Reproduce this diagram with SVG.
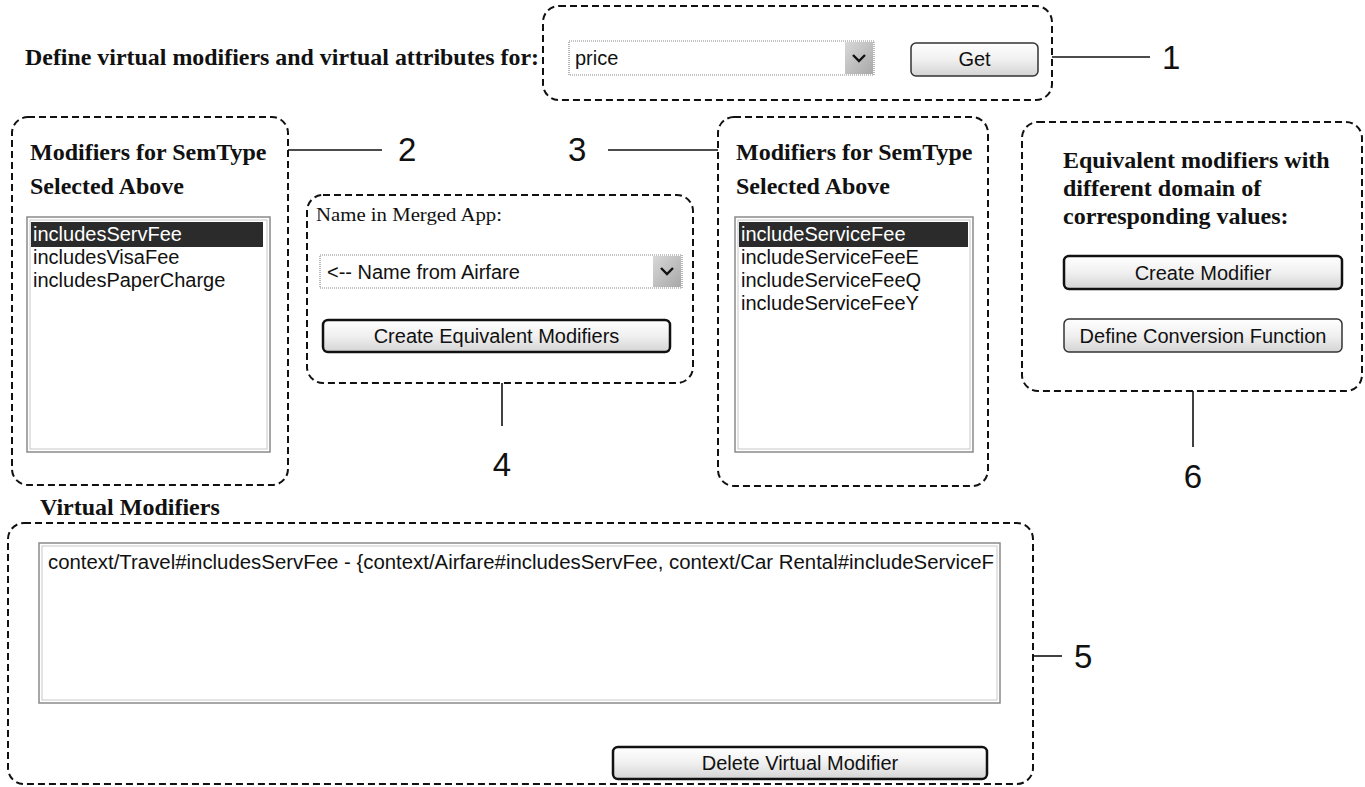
<svg xmlns="http://www.w3.org/2000/svg" width="1365" height="787" viewBox="0 0 1365 787">
<defs>
<linearGradient id="btn" x1="0" y1="0" x2="0" y2="1">
<stop offset="0" stop-color="#ffffff"/>
<stop offset="0.5" stop-color="#f0f0f0"/>
<stop offset="1" stop-color="#d4d4d4"/>
</linearGradient>
<linearGradient id="arr" x1="0" y1="0" x2="1" y2="1">
<stop offset="0" stop-color="#d8d8d8"/>
<stop offset="1" stop-color="#a8a8a8"/>
</linearGradient>
<clipPath id="taClip"><rect x="41" y="545" width="956" height="156"/></clipPath>
</defs>
<style>
.dash{fill:none;stroke:#111;stroke-width:2;stroke-dasharray:7 4}
.hd{font-family:"Liberation Serif",serif;font-weight:bold;font-size:24px;fill:#111}
.ui{font-family:"Liberation Sans",Arial,sans-serif;font-size:20px;fill:#111}
.sel{fill:#ffffff}
.num{font-family:"Liberation Sans",Arial,sans-serif;font-size:33px;fill:#111}
.lead{stroke:#111;stroke-width:1.6;fill:none}
.lb{fill:#fff;stroke:#8a8a8a;stroke-width:1.5}
.lbi{fill:none;stroke:#c8c8c8;stroke-width:1}
.dd{fill:#fff;stroke:#888;stroke-width:1.2;stroke-dasharray:1 1}
.btn{fill:url(#btn);stroke:#333;stroke-width:1.5}
.btnb{fill:url(#btn);stroke:#111;stroke-width:2.5}
.hl{fill:#2b2b2b}
.chev{fill:none;stroke:#111;stroke-width:2.4}
</style>

<g id="title">
<text class="hd" x="25" y="65" textLength="514" lengthAdjust="spacingAndGlyphs">Define virtual modifiers and virtual attributes for:</text>
</g>

<g id="node1">
<rect class="dash" x="543" y="6" width="509" height="94" rx="16"/>
<rect class="dd" x="569" y="41" width="305" height="34"/>
<rect x="845" y="42" width="28" height="32" fill="url(#arr)"/>
<polyline class="chev" points="853,55 859,61 865,55"/>
<text class="ui" x="575" y="65">price</text>
<rect class="btn" x="911" y="43" width="127" height="33" rx="5"/>
<text class="ui" x="974.5" y="66" text-anchor="middle">Get</text>
</g>

<g id="node2">
<rect class="dash" x="12" y="117" width="276" height="368" rx="16"/>
<text class="hd" x="30" y="160">Modifiers for SemType</text>
<text class="hd" x="30" y="194">Selected Above</text>
<rect class="lb" x="27" y="217" width="243" height="235"/>
<rect class="lbi" x="30" y="220" width="237" height="229"/>
<rect class="hl" x="31" y="222" width="232" height="25"/>
<text class="ui sel" x="33" y="241">includesServFee</text>
<text class="ui" x="33" y="264">includesVisaFee</text>
<text class="ui" x="33" y="287">includesPaperCharge</text>
</g>

<g id="node4">
<rect class="dash" x="307" y="195" width="386" height="188" rx="16"/>
<text x="316" y="221" textLength="186" lengthAdjust="spacingAndGlyphs" style="font-family:'Liberation Serif',serif;font-size:19px;fill:#111">Name in Merged App:</text>
<rect class="dd" x="320" y="255" width="362" height="33"/>
<rect x="653" y="256" width="28" height="31" fill="url(#arr)"/>
<polyline class="chev" points="661,268 667,274 673,268"/>
<text class="ui" x="327" y="279">&lt;-- Name from Airfare</text>
<rect class="btnb" x="323" y="320" width="347" height="32" rx="5"/>
<text class="ui" x="496.5" y="343" text-anchor="middle">Create Equivalent Modifiers</text>
</g>

<g id="node3">
<rect class="dash" x="718" y="117" width="270" height="369" rx="16"/>
<text class="hd" x="736" y="160">Modifiers for SemType</text>
<text class="hd" x="736" y="194">Selected Above</text>
<rect class="lb" x="735" y="217" width="238" height="235"/>
<rect class="lbi" x="738" y="220" width="232" height="229"/>
<rect class="hl" x="739" y="222" width="229" height="25"/>
<text class="ui sel" x="741" y="241">includeServiceFee</text>
<text class="ui" x="741" y="264">includeServiceFeeE</text>
<text class="ui" x="741" y="287">includeServiceFeeQ</text>
<text class="ui" x="741" y="310">includeServiceFeeY</text>
</g>

<g id="node6">
<rect class="dash" x="1022" y="122" width="340" height="269" rx="16"/>
<text class="hd" x="1063" y="168">Equivalent modifiers with</text>
<text class="hd" x="1063" y="196">different domain of</text>
<text class="hd" x="1063" y="224">corresponding values:</text>
<rect class="btnb" x="1064" y="256" width="278" height="33" rx="5"/>
<text class="ui" x="1203" y="280" text-anchor="middle">Create Modifier</text>
<rect class="btn" x="1064" y="319" width="278" height="33" rx="5"/>
<text class="ui" x="1203" y="343" text-anchor="middle">Define Conversion Function</text>
</g>

<g id="node5">
<text class="hd" x="40" y="515">Virtual Modifiers</text>
<rect class="dash" x="8" y="523" width="1025" height="261" rx="16"/>
<rect class="lb" x="39" y="543" width="961" height="160"/>
<rect class="lbi" x="42" y="546" width="955" height="154"/>
<text class="ui" x="48" y="569" textLength="946" lengthAdjust="spacingAndGlyphs" clip-path="url(#taClip)">context/Travel#includesServFee - {context/Airfare#includesServFee, context/Car Rental#includeServiceF</text>
<rect class="btnb" x="613" y="747" width="374" height="32" rx="5"/>
<text class="ui" x="800" y="770" text-anchor="middle">Delete Virtual Modifier</text>
</g>

<g id="connectors">
<line class="lead" x1="1052" y1="57" x2="1150" y2="57"/>
<line class="lead" x1="288" y1="150" x2="382" y2="150"/>
<line class="lead" x1="608" y1="150" x2="718" y2="150"/>
<line class="lead" x1="502" y1="383" x2="502" y2="426"/>
<line class="lead" x1="1193" y1="391" x2="1193" y2="447"/>
<line class="lead" x1="1033" y1="656" x2="1062" y2="656"/>
</g>

<g id="labels">
<text class="num" x="1162" y="69">1</text>
<text class="num" x="398" y="161">2</text>
<text class="num" x="568" y="161">3</text>
<text class="num" x="502" y="476" text-anchor="middle">4</text>
<text class="num" x="1074" y="668">5</text>
<text class="num" x="1193" y="488" text-anchor="middle">6</text>
</g>
</svg>
